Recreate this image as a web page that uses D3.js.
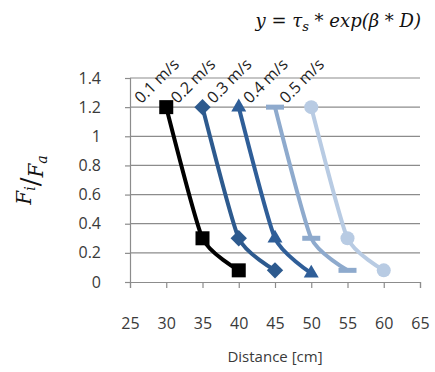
<!DOCTYPE html>
<html>
<head>
<meta charset="utf-8">
<script src="https://cdn.jsdelivr.net/npm/d3@7"></script>
<style>
  body { margin: 0; background: #fff; }
  svg { display: block; }
</style>
</head>
<body>
<div id="chart"></div>
<script>
// data
var speeds = ["0.1 m/s", "0.2 m/s", "0.3 m/s", "0.4 m/s", "0.5 m/s"];
var distances = [[30, 35, 40], [35, 40, 45], [40, 45, 50], [45, 50, 55], [50, 55, 60]];
var ratios = [[1.2, 0.3, 0.08], [1.2, 0.3, 0.08], [1.2, 0.3, 0.06], [1.2, 0.3, 0.08], [1.2, 0.3, 0.08]];
var xTicks = [25, 30, 35, 40, 45, 50, 55, 60, 65];
var yTicks = [0, 0.2, 0.4, 0.6, 0.8, 1, 1.2, 1.4];

var colors = ["#000000", "#2d5a8e", "#2f5e98", "#8eaacd", "#b8cbe3"];
var shapes = ["square", "diamond", "triangle", "dash", "circle"];

var W = 435, H = 372;
var svg = d3.select("#chart").append("svg").attr("width", W).attr("height", H)

var x = d3.scaleLinear().domain([25, 65]).range([130, 420]);
var y = d3.scaleLinear().domain([0, 1.4]).range([282, 78]);

var font = "'Open Sans', sans-serif";

// grid lines
svg.selectAll(".grid").data(yTicks.slice(1)).enter().append("line")
  .attr("x1", x(25)).attr("x2", x(65))
  .attr("y1", d => y(d)).attr("y2", d => y(d))
  .attr("stroke", "#8c8c8c").attr("stroke-width", 1.2)

// y axis
var yAxis = svg.append("g").attr("transform", "translate(" + x(25) + ",0)")
  .call(d3.axisLeft(y).tickValues(yTicks).tickFormat(d3.format("")).tickSize(5).tickPadding(24))
yAxis.select(".domain").attr("stroke", "#8c8c8c").attr("stroke-width", 1.2)
yAxis.selectAll(".tick line").attr("stroke", "#8c8c8c").attr("stroke-width", 1.2)
yAxis.selectAll("text").attr("font-family", font).attr("font-size", 16).attr("fill", "#3a3a3a")

// x axis
var xAxis = svg.append("g").attr("transform", "translate(0," + y(0) + ")")
  .call(d3.axisBottom(x).tickValues(xTicks).tickSize(6).tickPadding(30))
xAxis.select(".domain").attr("stroke", "#8c8c8c").attr("stroke-width", 1.2)
xAxis.selectAll(".tick line").attr("stroke", "#8c8c8c").attr("stroke-width", 1.2)
xAxis.selectAll("text").attr("font-family", font).attr("font-size", 16).attr("fill", "#3a3a3a")

svg.append("text").attr("x", x(45)).attr("y", 362).attr("text-anchor", "middle")
  .attr("font-family", font).attr("font-size", 15).attr("fill", "#3a3a3a")
  .text("Distance [cm]")

// series
var line = d3.line().x(d => x(d[0])).y(d => y(d[1])).curve(d3.curveCardinal.tension(0.45));

speeds.forEach(function(s, i) {
  var pts = distances[i].map((d, j) => [d, ratios[i][j]]);
  svg.append("path").datum(pts)
    .attr("d", line).attr("fill", "none")
    .attr("stroke", colors[i]).attr("stroke-width", 4)

  var g = svg.append("g");
  pts.forEach(function(p) {
    var cx = x(p[0]), cy = y(p[1]);
    var m;
    if (shapes[i] == "square") {
      m = g.append("rect").attr("x", cx - 7).attr("y", cy - 7).attr("width", 14).attr("height", 14)
    } else if (shapes[i] == "diamond") {
      m = g.append("path").attr("d", d3.symbol(d3.symbolDiamond2, 170)()).attr("transform", "translate(" + cx + "," + cy + ")")
    } else if (shapes[i] == "triangle") {
      m = g.append("path").attr("d", d3.symbol(d3.symbolTriangle2, 160)()).attr("transform", "translate(" + cx + "," + cy + ")")
    } else if (shapes[i] == "dash") {
      m = g.append("rect").attr("x", cx - 9).attr("y", cy - 2.5).attr("width", 18).attr("height", 5)
    } else {
      m = g.append("circle").attr("cx", cx).attr("cy", cy).attr("r", 7)
    }
    m.attr("fill", colors[i])
  })

  // rotated speed label above first point
  svg.append("text")
    .attr("transform", "translate(" + (x(pts[0][0]) - 25) + "," + (y(1.2) - 3) + ") rotate(-45)")
    .attr("font-family", font).attr("font-size", 16).attr("fill", "#222")
    .text(s)
})

// formula title
var t = svg.append("text").attr("x", 421).attr("y", 27).attr("text-anchor", "end")
  .attr("font-family", "'DejaVu Serif', serif").attr("font-size", 18).attr("font-style", "italic").attr("fill", "#111")
t.append("tspan").text("y = τ")
t.append("tspan").attr("font-size", 13).attr("dy", 4).text("s")
t.append("tspan").attr("dy", -4).text(" * exp(β * D)")

// y label F_i / F_a
var yl = svg.append("text").attr("transform", "translate(36,180) rotate(-90)")
  .attr("text-anchor", "middle")
  .attr("font-family", "'DejaVu Serif', serif").attr("font-size", 20).attr("font-style", "italic").attr("fill", "#111")
yl.append("tspan").attr("dy", -5).text("F")
yl.append("tspan").attr("font-size", 14).attr("dy", 4).text("i")
yl.append("tspan").attr("font-style", "normal").attr("font-size", 26).attr("dy", 4).text("/")
yl.append("tspan").attr("dy", 4).text("F")
yl.append("tspan").attr("font-size", 14).attr("dy", 4).text("a")
</script>
</body>
</html>
